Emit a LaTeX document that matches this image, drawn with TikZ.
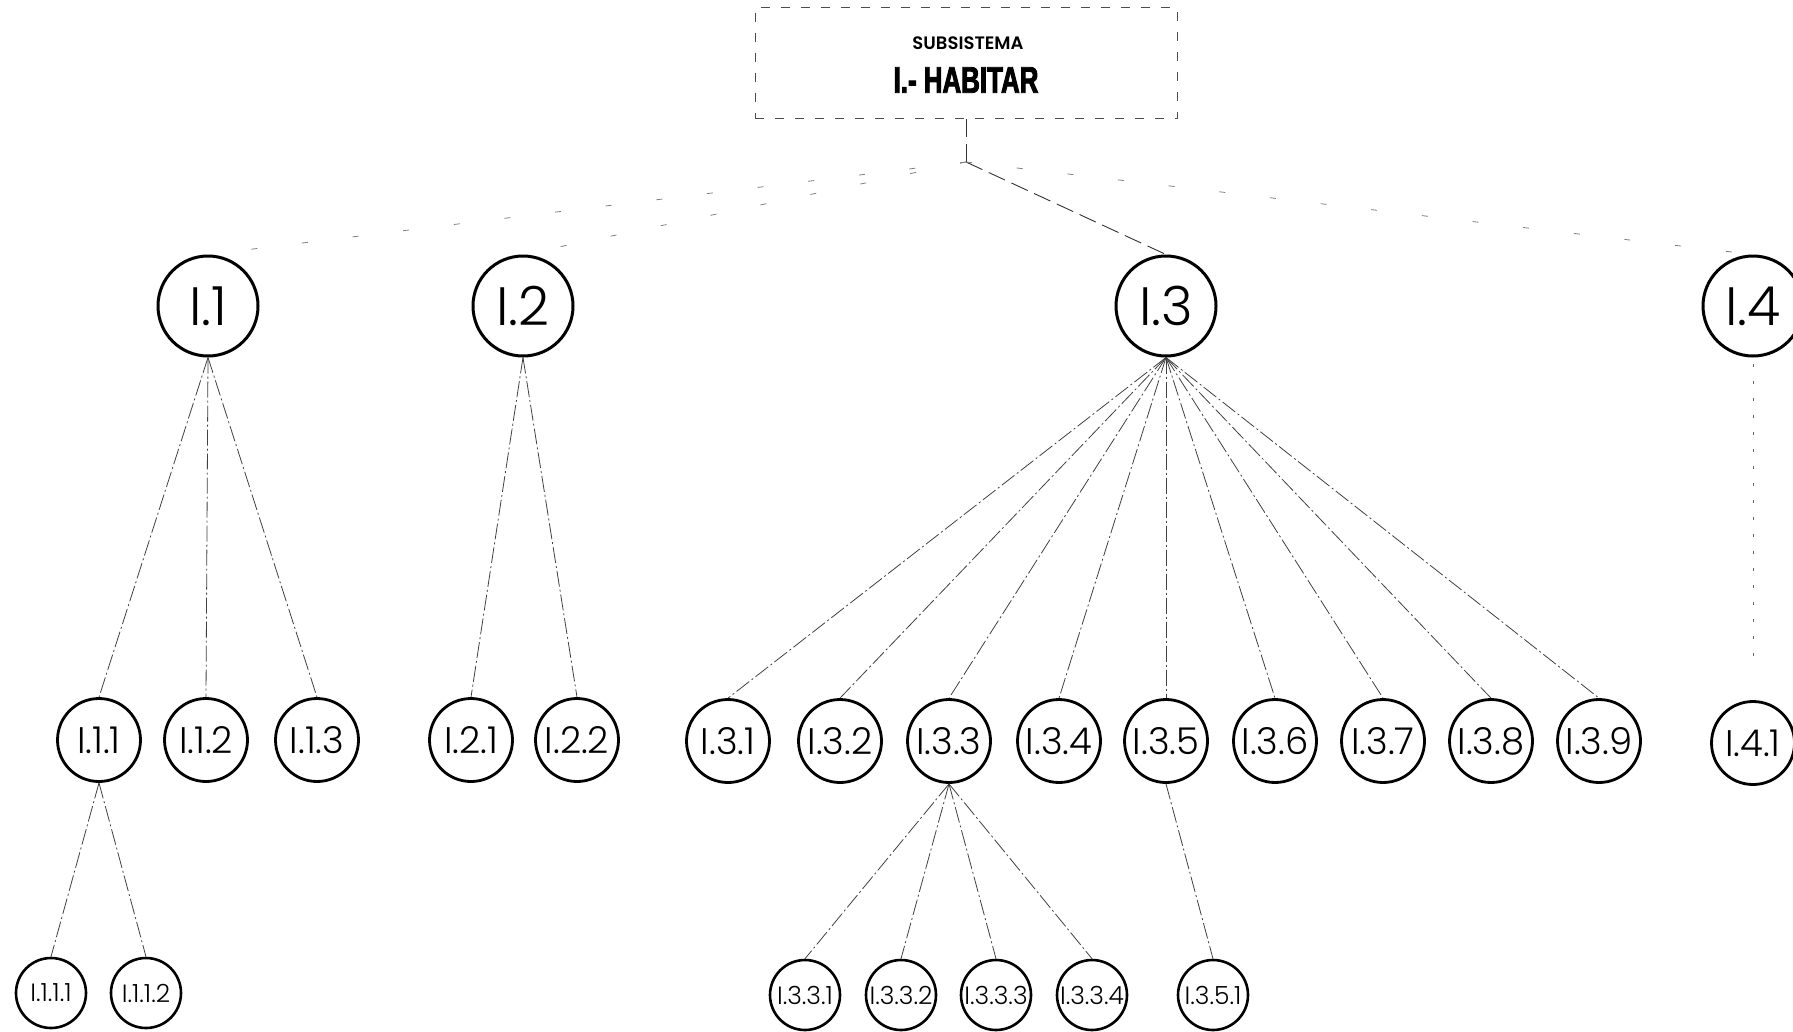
\documentclass[tikz,border=0pt]{standalone}
\usepackage{fontspec}
\setmainfont{Poppins}[UprightFont=* Light, BoldFont=* SemiBold]
\newfontfamily\titlefont{Liberation Sans}[FakeStretch=0.70, FakeBold=2.5]
\begin{document}
\begin{tikzpicture}[x=1pt,y=-1pt,
  lvA/.style={circle, draw=black, line width=3pt, minimum size=100pt, inner sep=0pt, font=\fontsize{54}{54}\selectfont},
  lvB/.style={circle, draw=black, line width=2.8pt, minimum size=83pt, inner sep=0pt, font=\fontsize{37}{37}\selectfont},
  lvC/.style={circle, draw=black, line width=2.6pt, minimum size=70pt, inner sep=0pt, font=\fontsize{25}{25}\selectfont},
  topbox/.style={draw=black!70, line width=1pt, dash pattern=on 9pt off 11pt, minimum width=422pt, minimum height=111pt, inner sep=0pt},
  link/.style={draw=black!75, line width=0.8pt, dash pattern=on 16pt off 3pt on 2pt off 3pt},
  faint/.style={draw=black!50, line width=0.8pt, dash pattern=on 6pt off 45pt},
  mainlink/.style={draw=black!80, line width=0.9pt, dash pattern=on 18pt off 7pt},
  dotlink/.style={draw=black!60, line width=0.9pt, dash pattern=on 3pt off 14pt}]
\useasboundingbox (0,0) rectangle (1793,1031);

% title box
\node[topbox] (n1) at (966,63) {};
\node[font=\bfseries\fontsize{18}{18}\selectfont] (t1) at (968,43) {SUBSISTEMA};
\node[font=\titlefont\bfseries\fontsize{37}{37}\selectfont] (t2) at (966,80) {I.- HABITAR};
\coordinate (j) at (966,162);

% level 1
\node[lvA] (n11) at (208,306) {I.1};
\node[lvA] (n12) at (523,306) {I.2};
\node[lvA] (n13) at (1166,306) {I.3};
\node[lvA] (n14) at (1753,306) {I.4};

% level 2
\node[lvB] (n111) at (99,740) {I.1.1};
\node[lvB] (n112) at (206,740) {I.1.2};
\node[lvB] (n113) at (317,740) {I.1.3};
\node[lvB] (n121) at (471,740) {I.2.1};
\node[lvB] (n122) at (577,740) {I.2.2};
\node[lvB] (n131) at (728,741) {I.3.1};
\node[lvB] (n132) at (840,741) {I.3.2};
\node[lvB] (n133) at (949,741) {I.3.3};
\node[lvB] (n134) at (1059,741) {I.3.4};
\node[lvB] (n135) at (1166,741) {I.3.5};
\node[lvB] (n136) at (1275,741) {I.3.6};
\node[lvB] (n137) at (1383,741) {I.3.7};
\node[lvB] (n138) at (1491,741) {I.3.8};
\node[lvB] (n139) at (1599,741) {I.3.9};
\node[lvB] (n141) at (1753,743) {I.4.1};

% level 3
\node[lvC] (n1111) at (51,993) {I.1.1.1};
\node[lvC] (n1112) at (146,993) {I.1.1.2};
\node[lvC] (n1331) at (805,995) {I.3.3.1};
\node[lvC] (n1332) at (901,995) {I.3.3.2};
\node[lvC] (n1333) at (996,995) {I.3.3.3};
\node[lvC] (n1334) at (1092,995) {I.3.3.4};
\node[lvC] (n1351) at (1213,995) {I.3.5.1};

% connectors from title
\draw[mainlink] (n1.south) -- (j);
\draw[mainlink] (j) -- (n13.north);
\draw[faint] (j) -- (n11.north);
\draw[faint] (j) -- (n12.north);
\draw[faint] (j) -- (n14.north);

% level 1 -> level 2
\foreach \c in {n111,n112,n113} \draw[link] (n11.south) -- (\c.north);
\foreach \c in {n121,n122} \draw[link] (n12.south) -- (\c.north);
\foreach \c in {n131,n132,n133,n134,n135,n136,n137,n138,n139} \draw[link] (n13.south) -- (\c.north);
\draw[dotlink, shorten <=6pt, shorten >=40pt] (n14.south) -- (n141.north);

% level 2 -> level 3
\foreach \c in {n1111,n1112} \draw[link] (n111.south) -- (\c.north);
\foreach \c in {n1331,n1332,n1333,n1334} \draw[link] (n133.south) -- (\c.north);
\draw[link] (n135.south) -- (n1351.north);
\end{tikzpicture}
\end{document}
